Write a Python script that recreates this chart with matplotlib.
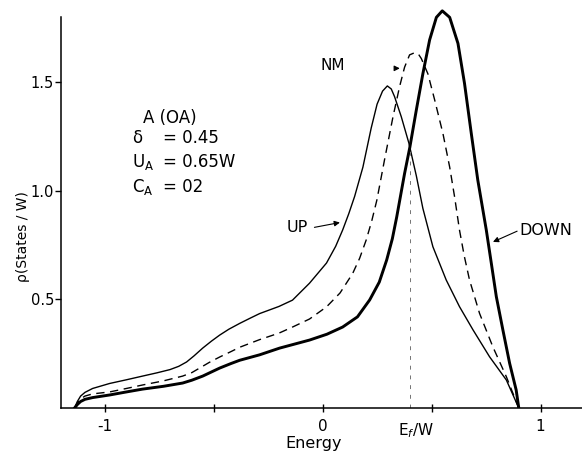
import numpy as np
import matplotlib
matplotlib.use("Agg")
import matplotlib.pyplot as plt
from matplotlib import transforms

# Energy / rho values (W units)
up_x = [-1.138, -1.125, -1.11, -1.09, -1.055, -0.977, -0.90, -0.826, -0.76, -0.70,
        -0.66, -0.624, -0.59, -0.55, -0.51, -0.472, -0.43, -0.38, -0.33, -0.289,
        -0.20, -0.138, -0.06, 0.018, 0.06, 0.092, 0.12, 0.147, 0.185, 0.223,
        0.25, 0.275, 0.297, 0.315, 0.33, 0.361, 0.396, 0.43, 0.46, 0.506,
        0.567, 0.628, 0.69, 0.766, 0.843, 0.9]
up_y = [0.0, 0.03, 0.055, 0.072, 0.09, 0.113, 0.13, 0.147, 0.162, 0.177,
        0.192, 0.212, 0.24, 0.276, 0.308, 0.336, 0.363, 0.39, 0.415, 0.435,
        0.468, 0.497, 0.575, 0.668, 0.745, 0.82, 0.895, 0.975, 1.11, 1.29,
        1.40, 1.46, 1.484, 1.47, 1.435, 1.342, 1.22, 1.07, 0.92, 0.743,
        0.59, 0.467, 0.36, 0.236, 0.129, 0.0]

nm_x = [-1.138, -1.125, -1.11, -1.09, -1.055, -0.977, -0.90, -0.826, -0.73, -0.642,
        -0.60, -0.564, -0.52, -0.472, -0.42, -0.38, -0.289, -0.20, -0.138, -0.06,
        0.018, 0.08, 0.138, 0.17, 0.2, 0.225, 0.249, 0.284, 0.323, 0.353,
        0.376, 0.399, 0.422, 0.44, 0.453, 0.483, 0.514, 0.552, 0.583, 0.606,
        0.628, 0.65, 0.674, 0.72, 0.781, 0.843, 0.9]
nm_y = [0.0, 0.022, 0.042, 0.055, 0.065, 0.074, 0.09, 0.106, 0.125, 0.147,
        0.163, 0.184, 0.21, 0.235, 0.26, 0.28, 0.315, 0.345, 0.373, 0.41,
        0.466, 0.53, 0.62, 0.69, 0.774, 0.86, 0.958, 1.143, 1.342, 1.48,
        1.57, 1.627, 1.637, 1.63, 1.61, 1.54, 1.42, 1.265, 1.11, 0.97,
        0.82, 0.70, 0.59, 0.436, 0.282, 0.144, 0.0]

dn_x = [-1.138, -1.125, -1.11, -1.09, -1.055, -0.977, -0.90, -0.826, -0.73, -0.642,
        -0.60, -0.55, -0.472, -0.42, -0.38, -0.289, -0.197, -0.06, 0.02, 0.092,
        0.16, 0.216, 0.26, 0.294, 0.32, 0.34, 0.376, 0.40, 0.43, 0.46,
        0.491, 0.522, 0.549, 0.583, 0.621, 0.651, 0.682, 0.712, 0.751, 0.774,
        0.797, 0.827, 0.858, 0.888, 0.9]
dn_y = [0.0, 0.016, 0.03, 0.04, 0.048, 0.06, 0.074, 0.087, 0.10, 0.115,
        0.128, 0.147, 0.184, 0.205, 0.22, 0.245, 0.276, 0.313, 0.34, 0.373,
        0.42, 0.498, 0.58, 0.682, 0.78, 0.88, 1.08, 1.20, 1.373, 1.54,
        1.696, 1.80, 1.83, 1.80, 1.68, 1.496, 1.266, 1.05, 0.82, 0.667,
        0.513, 0.36, 0.206, 0.083, 0.0]

e_fermi = 0.40
rho_fermi = 1.20

xtick_pos = [-1, 0, 1]
xtick_labels = ["-1", "0", "1"]
xminor_pos = [-0.5, 0.5]
ytick_pos = [0.5, 1.0, 1.5]
ytick_labels = ["0.5", "1.0", "1.5"]

fig = plt.figure(figsize=(5.82, 4.54), dpi=100)
ax = fig.add_axes([61 / 582, 46 / 454, 521 / 582, 401.5 / 454])

ax.plot(up_x, up_y, color="k", lw=1.0)
ax.plot(nm_x, nm_y, color="k", lw=1.0, dashes=(6, 4))
ax.plot(dn_x, dn_y, color="k", lw=2.1, solid_joinstyle="round")
ax.plot([e_fermi, e_fermi], [0, rho_fermi], color="0.45", lw=0.7,
        dashes=(4, 6))

ax.set_xlim(-1.2, 1.19)
ax.set_ylim(0, 1.85)
for s in ["top", "right"]:
    ax.spines[s].set_visible(False)
ax.spines["left"].set_bounds(0, 1.8)
ax.spines["left"].set_linewidth(1.1)
ax.spines["bottom"].set_linewidth(1.1)

ax.set_xticks(xtick_pos)
ax.set_xticklabels(xtick_labels, fontsize=11)
ax.set_xticks(xminor_pos, minor=True)
ax.set_yticks(ytick_pos)
ax.set_yticklabels(ytick_labels, fontsize=10.5)
ax.tick_params(axis="x", which="both", direction="inout", length=6, width=1, pad=5)
ax.tick_params(axis="y", direction="out", length=4, width=1, pad=1)

trans = transforms.blended_transform_factory(ax.transData, ax.transAxes)
ax.text(0.43, -0.056, "E$_f$/W", transform=trans, ha="center", va="center",
        fontsize=11)
ax.text(-0.04, -0.088, "Energy", transform=trans, ha="center", va="center",
        fontsize=11.5)
ax.text(-1.375, 0.79, "ρ(States / W)", rotation=90, ha="center",
        va="center", fontsize=10, clip_on=False)

# parameter block
ax.text(-0.826, 1.336, "A (OA)", ha="left", va="center", fontsize=12)
syms = ["δ", "U$_{\\mathsf{A}}$", "C$_{\\mathsf{A}}$"]
vals = ["= 0.45", "= 0.65W", "= 02"]
rows = [1.244, 1.134, 1.02]
for s, v, r in zip(syms, vals, rows):
    ax.text(-0.876, r, s, ha="left", va="center", fontsize=12)
    ax.text(-0.734, r, v, ha="left", va="center", fontsize=12)

arw = dict(arrowstyle="-|>", lw=0.8, color="k", mutation_scale=8)
ax.text(0.046, 1.58, "NM", ha="center", va="center", fontsize=11)
ax.annotate("", xy=(0.367, 1.565), xytext=(0.321, 1.565), arrowprops=arw)
ax.text(-0.117, 0.83, "UP", ha="center", va="center", fontsize=11.5)
ax.annotate("", xy=(0.092, 0.857), xytext=(-0.05, 0.83), arrowprops=arw)
ax.text(1.023, 0.82, "DOWN", ha="center", va="center", fontsize=11.5)
ax.annotate("", xy=(0.77, 0.76), xytext=(0.904, 0.82), arrowprops=arw)

plt.savefig("out.png", dpi=100)
plt.close()
